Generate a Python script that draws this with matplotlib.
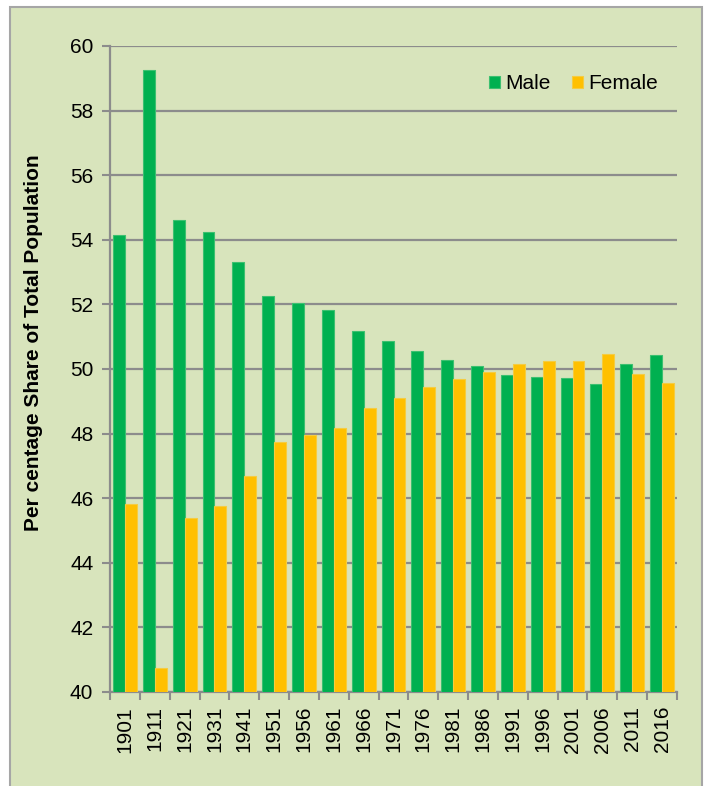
import matplotlib
matplotlib.use("Agg")
import matplotlib.pyplot as plt
from matplotlib.patches import Rectangle
import numpy as np

years = ["1901", "1911", "1921", "1931", "1941", "1951", "1956", "1961", "1966",
         "1971", "1976", "1981", "1986", "1991", "1996", "2001", "2006", "2011", "2016"]
male = [54.15, 59.25, 54.61, 54.24, 53.30, 52.25, 52.04, 51.83, 51.19,
        50.88, 50.55, 50.28, 50.08, 49.81, 49.74, 49.72, 49.54, 50.15, 50.43]
female = [45.83, 40.74, 45.38, 45.76, 46.70, 47.75, 47.95, 48.16, 48.80,
          49.11, 49.44, 49.70, 49.91, 50.16, 50.25, 50.26, 50.46, 49.84, 49.56]
yticks = [40, 42, 44, 46, 48, 50, 52, 54, 56, 58, 60]

GREEN = "#00B050"
YELLOW = "#FFC000"
BG = "#D8E4BC"
GRID = "#8C8C8C"

plt.rcParams['font.family'] = ['Liberation Sans', 'DejaVu Sans']

W, H = 704, 786
fig = plt.figure(figsize=(W / 100, H / 100), dpi=100)
fig.patch.set_facecolor("white")
fig.add_artist(Rectangle((10 / W, -0.01), 692 / W, (H - 7) / H + 0.01,
                         transform=fig.transFigure, facecolor=BG,
                         edgecolor="#A6A6A6", linewidth=1.5, zorder=0))

ax = fig.add_axes([110 / W, (H - 692) / H, (677 - 110) / W, (692 - 46) / H])
ax.set_facecolor(BG)

x = np.arange(len(years))
bw = 0.4
ax.bar(x - bw / 2, np.array(male) - 40, bw, bottom=40, color=GREEN,
       edgecolor="#3CC070", linewidth=0.8, label="Male", zorder=3)
ax.bar(x + bw / 2, np.array(female) - 40, bw, bottom=40, color=YELLOW,
       edgecolor="#F5CC40", linewidth=0.8, label="Female", zorder=3)

ax.set_ylim(40, 60)
ax.set_xlim(-0.5, len(years) - 0.5)
ax.set_yticks(yticks)
ax.set_yticklabels([str(v) for v in yticks], fontsize=15)
ax.yaxis.grid(True, color=GRID, linewidth=1.6, zorder=1)
ax.set_axisbelow(True)

ax.set_xticks(x)
ax.set_xticklabels(years, rotation=90, fontsize=15, va="top", ha="center")
ax.set_xticks(np.arange(-0.5, len(years), 1), minor=True)
ax.tick_params(axis="x", which="major", length=0, pad=10)
ax.tick_params(axis="x", which="minor", length=6, width=1.5, color=GRID)
ax.tick_params(axis="y", length=6, width=1.5, color=GRID, pad=6)

for s in ["top", "right"]:
    ax.spines[s].set_visible(False)
for s in ["left", "bottom"]:
    ax.spines[s].set_color(GRID)
    ax.spines[s].set_linewidth(1.6)

ax.set_ylabel("Per centage Share of Total Population", fontsize=15,
              fontweight="bold")
ax.yaxis.set_label_coords(-0.118, 0.54)

leg = ax.legend(loc="upper right", bbox_to_anchor=(1.0, 0.985), ncol=2,
                frameon=False, fontsize=15, handlelength=0.55, handleheight=0.55,
                handletextpad=0.25, columnspacing=1.0)

fig.savefig("out.png", dpi=100, facecolor=fig.get_facecolor())
